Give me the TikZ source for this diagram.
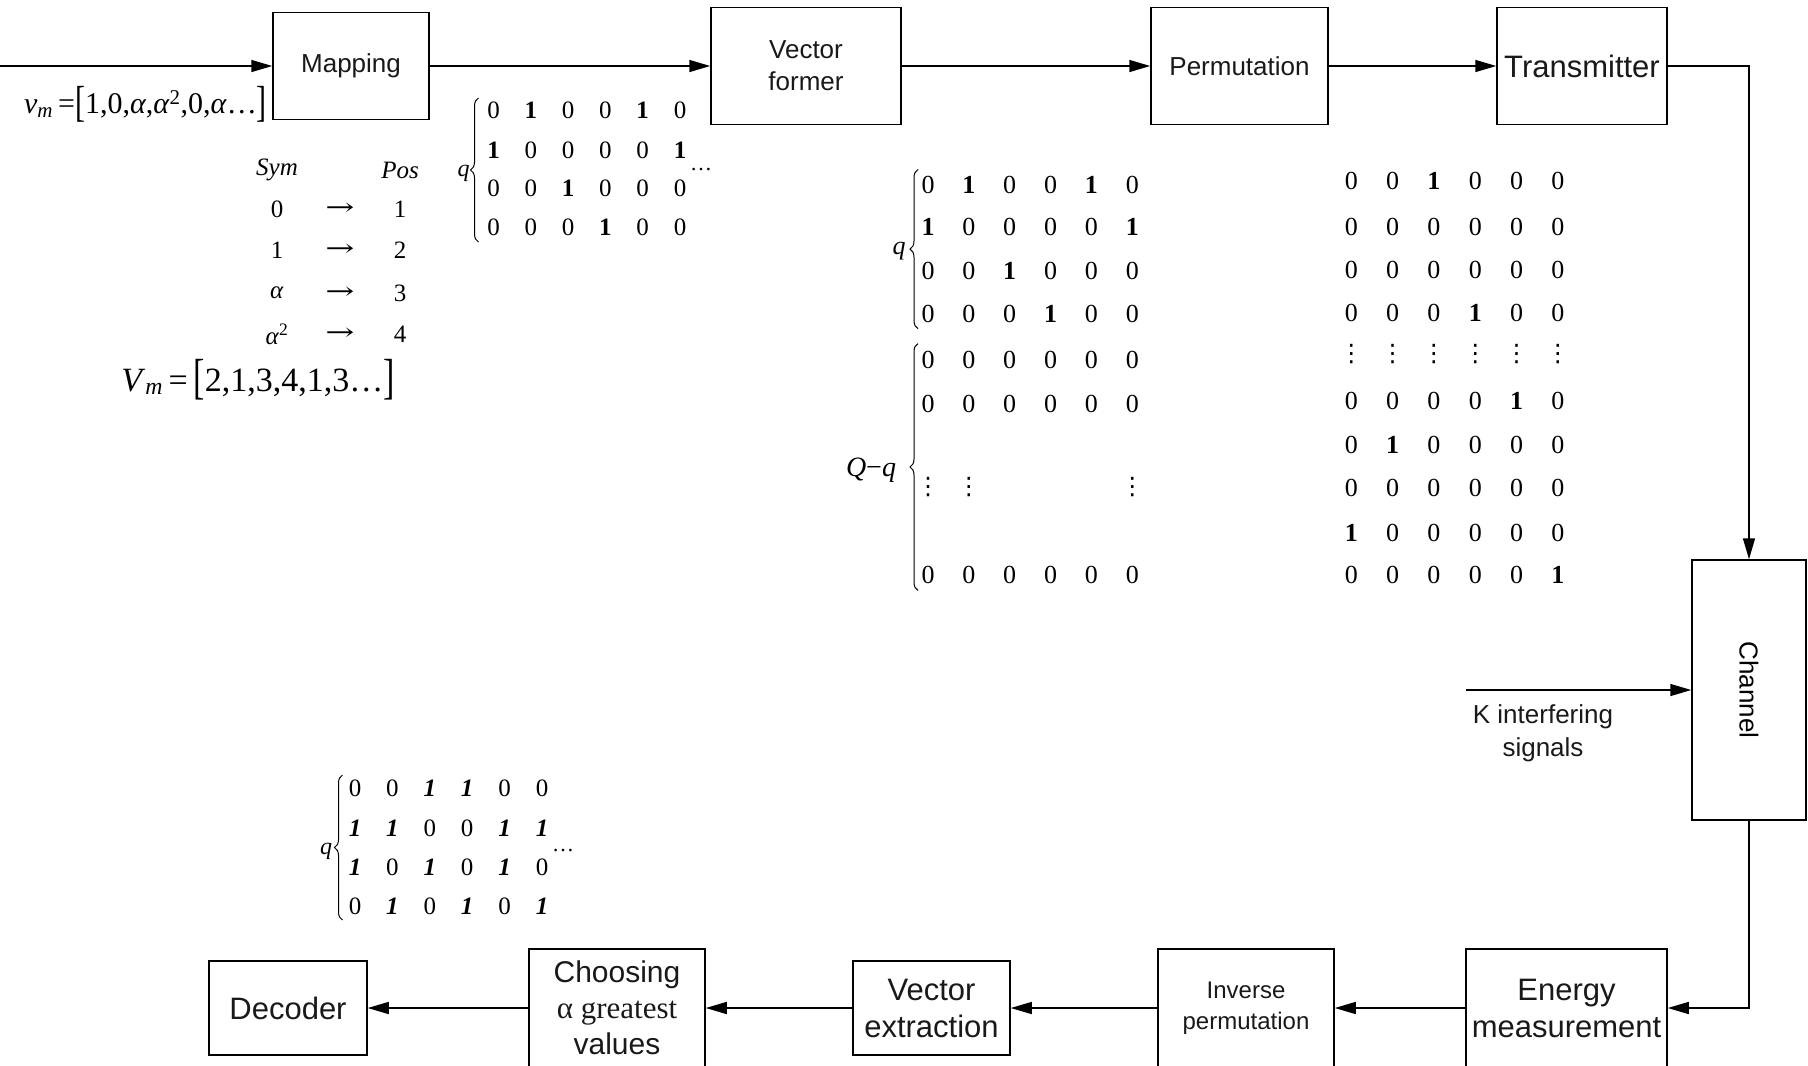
\documentclass[tikz,border=0pt]{standalone}
\usepackage{graphicx}
\usepackage{fontspec}
\setmainfont{Liberation Serif}
\setsansfont{Liberation Sans}
\newfontfamily\dvs{DejaVu Serif}
\newfontfamily\dvsans{DejaVu Sans}
\usetikzlibrary{arrows.meta,decorations.pathreplacing}
\newcommand\bone{\textbf{1}}
\newcommand\ione{\textbf{\textit{1}}}
\newcommand\vd{{\dvsans\fontsize{24}{24}\selectfont ⋮}}
\newcommand\tallbr[1]{\raisebox{-0.08em}{\scalebox{1}[1.45]{#1}}}
\tikzset{
  blk/.style={draw, line width=1.5pt, inner sep=0pt, align=center, text=black!90,
    font=\sffamily\fontsize{26}{32}\selectfont},
  conn/.style={line width=1.5pt, -{Triangle[length=21pt,width=12pt]}},
  ent/.style={inner sep=0pt, font=\fontsize{26}{26}\selectfont},
  lbl/.style={inner sep=0pt, font=\fontsize{26}{26}\selectfont},
  brc/.style={decorate, decoration={brace, amplitude=8pt}, line width=1pt},
}
\begin{document}
\begin{tikzpicture}[x=1pt,y=-1pt]
\useasboundingbox (0,0) rectangle (1808,1066);
\clip (0,0) rectangle (1808,1066);

% ---- top row blocks
\node[blk, minimum width=156pt, minimum height=107pt] (map) at (351,66) {Mapping};
\node[blk, minimum width=190pt, minimum height=117pt] (vf) at (806,66) {Vector\\former};
\node[blk, minimum width=177pt, minimum height=117pt] (perm) at (1239.5,66) {Permutation};
\node[blk, minimum width=170pt, minimum height=117pt, font=\sffamily\fontsize{31}{36}\selectfont] (tx) at (1582,66) {Transmitter};
\node[blk, minimum width=114pt, minimum height=260pt] (ch) at (1749,690) {};
\node[inner sep=0pt, rotate=-90, font=\sffamily\fontsize{26}{30}\selectfont] (chl) at (ch.center) {Channel};

% ---- bottom row blocks
\node[blk, minimum width=201pt, minimum height=118pt, font=\sffamily\fontsize{31}{37}\selectfont] (em) at (1566.5,1008) {Energy\\measurement};
\node[blk, minimum width=176pt, minimum height=118pt, font=\sffamily\fontsize{24}{31}\selectfont] (ip) at (1246,1008) {Inverse\\permutation};
\node[blk, minimum width=157pt, minimum height=94pt, font=\sffamily\fontsize{31}{37}\selectfont] (ve) at (931.5,1008) {Vector\\extraction};
\node[blk, minimum width=176pt, minimum height=118pt, font=\sffamily\fontsize{30}{36}\selectfont] (cg) at (617,1008) {Choosing\\{\rmfamily\fontsize{31}{36}\selectfont α greatest}\\values};
\node[blk, minimum width=158pt, minimum height=94pt, font=\sffamily\fontsize{31}{37}\selectfont] (dec) at (288,1008) {Decoder};

% ---- connectors
\coordinate (in) at (0,66);
\coordinate (kin) at (1466,690);
\draw[conn] (in) -- (map.west);
\draw[conn] (map) -- (vf);
\draw[conn] (vf) -- (perm);
\draw[conn] (perm) -- (tx);
\draw[conn] (tx.east) -| (ch.north);
\draw[conn] (ch.south) |- (em.east);
\draw[conn] (kin) -- (ch.west);
\draw[conn] (em) -- (ip);
\draw[conn] (ip) -- (ve);
\draw[conn] (ve) -- (cg);
\draw[conn] (cg) -- (dec);

\node[align=center, inner sep=0pt, font=\sffamily\fontsize{26}{33}\selectfont, text=black!90] (kl) at (1543,733) {K interfering\\signals};

% ---- formulas
\node[anchor=east, inner sep=0pt, font=\fontsize{30}{30}\selectfont] (vm) at (267,104)
  {\textit{v}\textsubscript{\textit{m}}\,=\tallbr{[}1,0,\textit{α},\textit{α}\textsuperscript{2},0,\textit{α}…\tallbr{]}};
\node[inner sep=0pt, font=\fontsize{34}{34}\selectfont] (Vm) at (258,380)
  {\textit{V}\textsubscript{\textit{m}}\,=\,\tallbr{[}2,1,3,4,1,3…\tallbr{]}};

% Sym / Pos table
\node[lbl, font=\fontsize{25}{25}\selectfont\itshape] (sym) at (277,170) {Sym};
\node[lbl, font=\fontsize{25}{25}\selectfont\itshape] (pos) at (400,170) {Pos};
\foreach \s/\p/\yy [count=\i] in {0/1/209, 1/2/250, \textit{α}/3/293, \textit{α}\textsuperscript{2}/4/334}{
  \node[lbl, font=\fontsize{25}{25}\selectfont] (s\i) at (277,\yy) {\s};
  \node[lbl, font=\dvs\fontsize{24}{24}\selectfont] (r\i) at (340,\yy) {\scalebox{1.45}[1]{→}};
  \node[lbl, font=\fontsize{25}{25}\selectfont] (p\i) at (400,\yy) {\p};
}

% ---- matrix 1 (top)
\foreach \row [count=\r] in {{0,\bone,0,0,\bone,0},{\bone,0,0,0,0,\bone},{0,0,\bone,0,0,0},{0,0,0,\bone,0,0}}{
  \pgfmathsetmacro\yy{{110,150,188,227}[\r-1]}
  \foreach \v [count=\c] in \row
    \node[ent, font=\fontsize{25}{25}\selectfont] (a-\r-\c) at ({493.5+37.3*(\c-1)},\yy) {\v};
}
\draw[brc] (478.5,242) -- (478.5,98);
\node[lbl, font=\fontsize{24}{24}\selectfont\itshape] (qa) at (463.5,173) {q};
\node[lbl, font=\fontsize{22}{22}\selectfont] (da) at (701,170) {…};

% ---- matrix 2 (middle)
\foreach \row [count=\r] in {{0,\bone,0,0,\bone,0},{\bone,0,0,0,0,\bone},{0,0,\bone,0,0,0},{0,0,0,\bone,0,0},{0,0,0,0,0,0},{0,0,0,0,0,0}}{
  \pgfmathsetmacro\yy{{184.5,227,271,313.6,359.8,403.6}[\r-1]}
  \foreach \v [count=\c] in \row
    \node[ent] (b-\r-\c) at ({928+40.86*(\c-1)},\yy) {\v};
}
\node[ent] (b-7-1) at (928,486.6) {\vd};
\node[ent] (b-7-2) at (968.9,486.6) {\vd};
\node[ent] (b-7-6) at (1132.3,486.6) {\vd};
\foreach \c in {1,...,6}
  \node[ent] (b-8-\c) at ({928+40.86*(\c-1)},575.4) {0};
\draw[brc] (918,328.6) -- (918,169.5);
\draw[brc] (918,590.4) -- (918,343.6);
\node[lbl, font=\fontsize{26}{26}\selectfont\itshape] (qb) at (899,251) {q};
\node[lbl, font=\fontsize{28}{28}\selectfont] (Qq) at (871,470.5) {\textit{Q}−\textit{q}};

% ---- matrix 3 (permuted)
\foreach \row [count=\r] in {{0,0,\bone,0,0,0},{0,0,0,0,0,0},{0,0,0,0,0,0},{0,0,0,\bone,0,0},{\vd,\vd,\vd,\vd,\vd,\vd},{0,0,0,0,\bone,0},{0,\bone,0,0,0,0},{0,0,0,0,0,0},{\bone,0,0,0,0,0},{0,0,0,0,0,\bone}}{
  \pgfmathsetmacro\yy{{181,227.2,269.8,312.5,354,401.3,445,487.8,532.7,575.4}[\r-1]}
  \foreach \v [count=\c] in \row
    \node[ent] (c-\r-\c) at ({1351.4+41.28*(\c-1)},\yy) {\v};
}

% ---- matrix 4 (bottom left)
\foreach \row [count=\r] in {{0,0,\ione,\ione,0,0},{\ione,\ione,0,0,\ione,\ione},{\ione,0,\ione,0,\ione,0},{0,\ione,0,\ione,0,\ione}}{
  \pgfmathsetmacro\yy{{788.7,828,867,906.3}[\r-1]}
  \foreach \v [count=\c] in \row
    \node[ent, font=\fontsize{25}{25}\selectfont] (d-\r-\c) at ({355+37.4*(\c-1)},\yy) {\v};
}
\draw[brc] (342.5,920) -- (342.5,775);
\node[lbl, font=\fontsize{24}{24}\selectfont\itshape] (qd) at (326,851) {q};
\node[lbl, font=\fontsize{22}{22}\selectfont] (dd) at (563,850) {…};
\end{tikzpicture}
\end{document}
